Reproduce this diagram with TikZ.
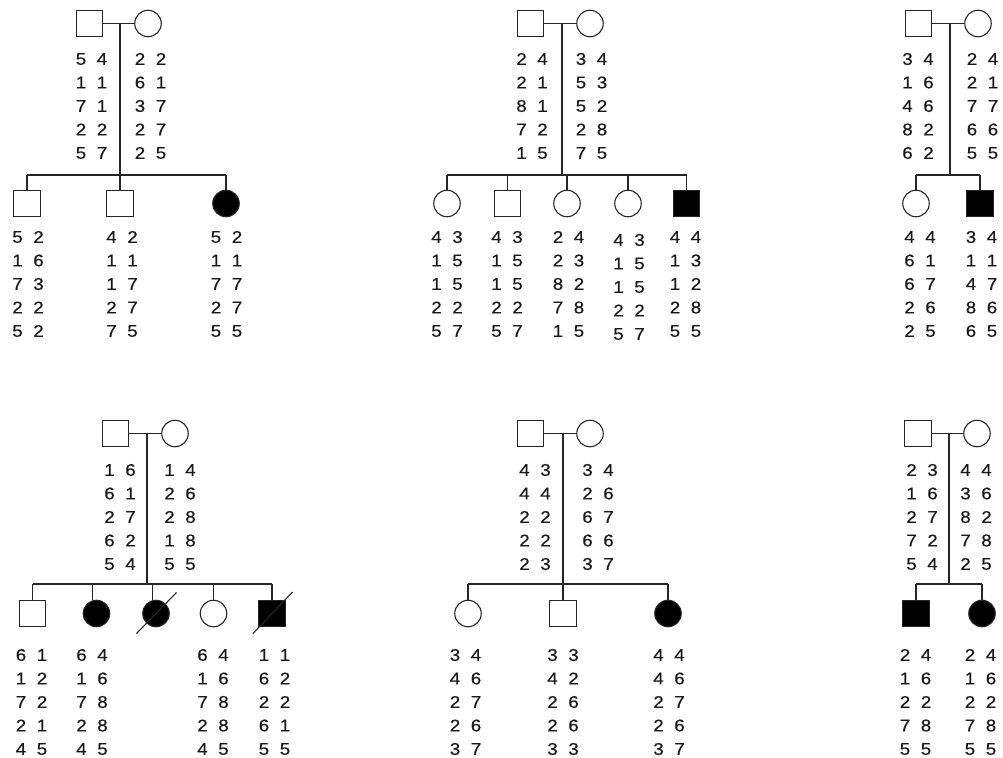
\documentclass[tikz,border=0pt]{standalone}
\usepackage{fontspec}
\setmainfont{Liberation Sans}[FakeStretch=1.1,FakeBold=0.4]
\tikzset{
 ln/.style={draw=black!85, line width=1.1pt},
 male/.style={ln, rectangle, minimum size=26.5pt, inner sep=0pt, fill=white},
 female/.style={ln, circle, minimum size=26.5pt, inner sep=0pt, fill=white},
 aff/.style={fill=black},
 gtxt/.style={inner sep=0pt, text=black!90, font=\fontsize{17}{20}\selectfont},
}
\newcommand{\genotype}[4]{%
  \foreach \gA/\gB [count=\gi] in {#4} {
    \node[gtxt] (#1-\gi-a) at ({#2-10.5},{#3+(\gi-1)*23.5}) {\gA};
    \node[gtxt] (#1-\gi-b) at ({#2+10.5},{#3+(\gi-1)*23.5}) {\gB};
  }}
\begin{document}
\begin{tikzpicture}[x=1pt,y=-1pt]
\useasboundingbox (0,0) rectangle (1003,757);

% ---------------- Pedigree 1 ----------------
\node[male] (f1) at (89.5,23.5) {};
\node[female] (m1) at (148,23.5) {};
\coordinate (u1) at (120,23.5);
\coordinate (s1) at (120,175);
\node[male] (c11) at (27,203.5) {};
\node[male] (c12) at (120,203.5) {};
\node[female,aff] (c13) at (226,203.5) {};
\draw[ln] (f1) -- (m1);
\draw[ln] (u1) -- (s1);
\draw[ln] (c11.north |- s1) -- (c13.north |- s1);
\foreach \c in {c11,c12,c13} \draw[ln] (\c.north |- s1) -- (\c.north);
\genotype{g1f}{91.5}{59}{5/4,1/1,7/1,2/2,5/7}
\genotype{g1m}{150.5}{59}{2/2,6/1,3/7,2/7,2/5}
\genotype{g11}{28}{237}{5/2,1/6,7/3,2/2,5/2}
\genotype{g12}{122}{237}{4/2,1/1,1/7,2/7,7/5}
\genotype{g13}{226.5}{237}{5/2,1/1,7/7,2/7,5/5}

% ---------------- Pedigree 2 ----------------
\node[male] (f2) at (530.5,23.5) {};
\node[female] (m2) at (590,23.5) {};
\coordinate (u2) at (562,23.5);
\coordinate (s2) at (562,175);
\node[female] (c21) at (447,203.5) {};
\node[male] (c22) at (507.5,203.5) {};
\node[female] (c23) at (567,203.5) {};
\node[female] (c24) at (628,203.5) {};
\node[male,aff] (c25) at (686.5,203.5) {};
\draw[ln] (f2) -- (m2);
\draw[ln] (u2) -- (s2);
\draw[ln] (c21.north |- s2) -- (c25.north |- s2);
\foreach \c in {c21,c22,c23,c24,c25} \draw[ln] (\c.north |- s2) -- (\c.north);
\genotype{g2f}{532}{59}{2/4,2/1,8/1,7/2,1/5}
\genotype{g2m}{591.5}{59}{3/4,5/3,5/2,2/8,7/5}
\genotype{g21}{447}{237}{4/3,1/5,1/5,2/2,5/7}
\genotype{g22}{507}{237}{4/3,1/5,1/5,2/2,5/7}
\genotype{g23}{568.5}{237}{2/4,2/3,8/2,7/8,1/5}
\genotype{g24}{629}{240}{4/3,1/5,1/5,2/2,5/7}
\genotype{g25}{685.5}{237}{4/4,1/3,1/2,2/8,5/5}

% ---------------- Pedigree 3 ----------------
\node[male] (f3) at (918.5,23.5) {};
\node[female] (m3) at (978,23.5) {};
\coordinate (u3) at (950,23.5);
\coordinate (s3) at (950,175);
\node[female] (c31) at (916,203.5) {};
\node[male,aff] (c32) at (980,203.5) {};
\draw[ln] (f3) -- (m3);
\draw[ln] (u3) -- (s3);
\draw[ln] (c31.north |- s3) -- (c32.north |- s3);
\foreach \c in {c31,c32} \draw[ln] (\c.north |- s3) -- (\c.north);
\genotype{g3f}{918}{59}{3/4,1/6,4/6,8/2,6/2}
\genotype{g3m}{982.5}{59}{2/4,2/1,7/7,6/6,5/5}
\genotype{g31}{920}{237}{4/4,6/1,6/7,2/6,2/5}
\genotype{g32}{981.5}{237}{3/4,1/1,4/7,8/6,6/5}

% ---------------- Pedigree 4 ----------------
\node[male] (f4) at (115.5,433.5) {};
\node[female] (m4) at (175,433.5) {};
\coordinate (u4) at (147,433.5);
\coordinate (s4) at (147,584);
\node[male] (c41) at (32.5,613.5) {};
\node[female,aff] (c42) at (96.5,613.5) {};
\node[female,aff] (c43) at (156,613.5) {};
\node[female] (c44) at (213.5,613.5) {};
\node[male,aff] (c45) at (272,613.5) {};
\coordinate (d41) at (32.5,584);
\coordinate (d42) at (92.7,584);
\coordinate (d43) at (152.7,584);
\coordinate (d44) at (213.5,584);
\coordinate (d45) at (272,584);
\draw[ln] (f4) -- (m4);
\draw[ln] (u4) -- (s4);
\draw[ln] (d41) -- (d45);
\draw[ln] (d41) -- (c41.north);
\draw[ln] (d42) -- (d42 |- c42.north);
\draw[ln] (d43) -- (d43 |- c43.north);
\draw[ln] (d44) -- (c44.north);
\draw[ln] (d45) -- (c45.north);
\draw[ln] ([shift={(-19.5,20)}]c43.center) -- ([shift={(20.5,-21)}]c43.center);
\draw[ln] ([shift={(-19,20)}]c45.center) -- ([shift={(20.5,-21.5)}]c45.center);
\genotype{g4f}{120}{470}{1/6,6/1,2/7,6/2,5/4}
\genotype{g4m}{180}{470}{1/4,2/6,2/8,1/8,5/5}
\genotype{g41}{31.5}{655}{6/1,1/2,7/2,2/1,4/5}
\genotype{g42}{92}{655}{6/4,1/6,7/8,2/8,4/5}
\genotype{g44}{213}{655}{6/4,1/6,7/8,2/8,4/5}
\genotype{g45}{274.5}{655}{1/1,6/2,2/2,6/1,5/5}

% ---------------- Pedigree 5 ----------------
\node[male] (f5) at (530.5,433.5) {};
\node[female] (m5) at (590,433.5) {};
\coordinate (u5) at (563,433.5);
\coordinate (s5) at (563,584);
\node[female] (c51) at (468,613.5) {};
\node[male] (c52) at (563,613.5) {};
\node[female,aff] (c53) at (668,613.5) {};
\draw[ln] (f5) -- (m5);
\draw[ln] (u5) -- (s5);
\draw[ln] (c51.north |- s5) -- (c53.north |- s5);
\foreach \c in {c51,c52,c53} \draw[ln] (\c.north |- s5) -- (\c.north);
\genotype{g5f}{535}{470}{4/3,4/4,2/2,2/2,2/3}
\genotype{g5m}{598}{470}{3/4,2/6,6/7,6/6,3/7}
\genotype{g51}{465.5}{655}{3/4,4/6,2/7,2/6,3/7}
\genotype{g52}{563}{655}{3/3,4/2,2/6,2/6,3/3}
\genotype{g53}{669}{655}{4/4,4/6,2/7,2/6,3/7}

% ---------------- Pedigree 6 ----------------
\node[male] (f6) at (918,433.5) {};
\node[female] (m6) at (977,433.5) {};
\coordinate (u6) at (949,433.5);
\coordinate (s6) at (949,584);
\node[male,aff] (c61) at (916,613.5) {};
\node[female,aff] (c62) at (982,613.5) {};
\draw[ln] (f6) -- (m6);
\draw[ln] (u6) -- (s6);
\draw[ln] (c61.north |- s6) -- (c62.north |- s6);
\foreach \c in {c61,c62} \draw[ln] (\c.north |- s6) -- (\c.north);
\genotype{g6f}{922}{470}{2/3,1/6,2/7,7/2,5/4}
\genotype{g6m}{976}{470}{4/4,3/6,8/2,7/8,2/5}
\genotype{g61}{915.5}{655}{2/4,1/6,2/2,7/8,5/5}
\genotype{g62}{980.5}{655}{2/4,1/6,2/2,7/8,5/5}
\end{tikzpicture}
\end{document}
